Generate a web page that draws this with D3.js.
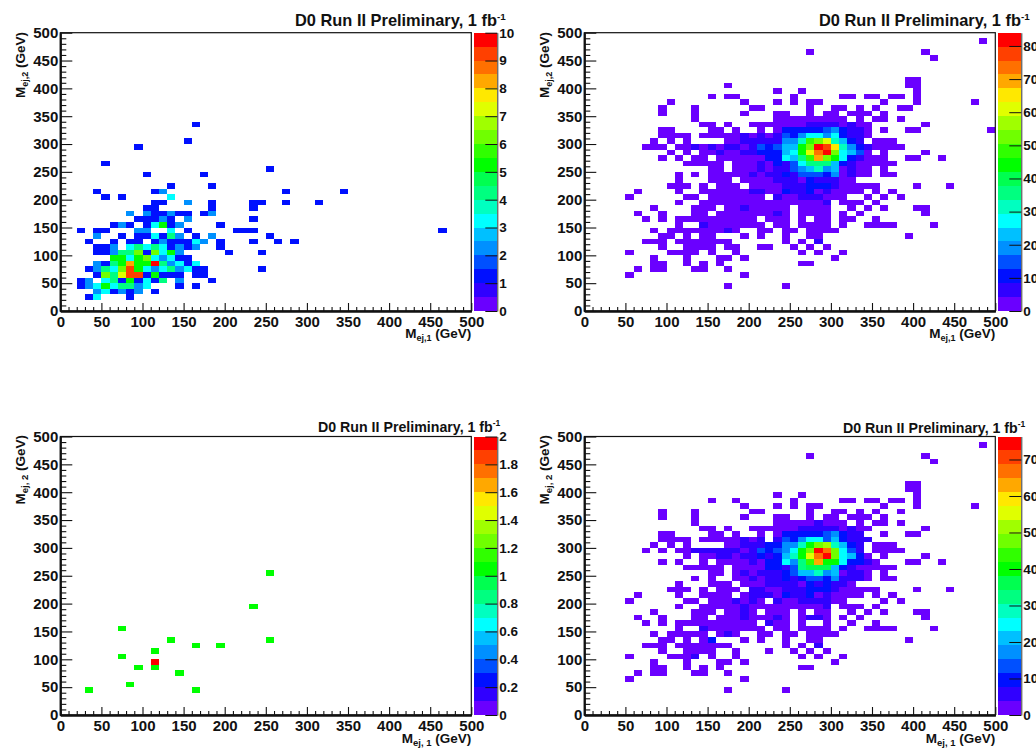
<!DOCTYPE html>
<html>
<head>
<meta charset="utf-8">
<script src="https://cdn.jsdelivr.net/npm/d3@7/dist/d3.min.js"></script>
<style>
html,body{margin:0;padding:0;background:#fff;overflow:hidden}
svg{display:block}
text{font-family:"Liberation Sans",Arial,sans-serif;font-weight:bold;fill:#111}
</style>
</head>
<body>
<svg id="c" width="1036" height="752"></svg>
<script>
// Data: each row is "yBin|xBin[-xBin][:count] ...", bins are 10 GeV wide, count defaults to 1.
const rowsA = [
"33|16","30|15","29|9","26|5","25|25","24|10 17","22|13 18","21|4 11 12:2 27 34","20|5 7 13:3",
"19|11-12 15:2 18 23-24 27 31","18|10-11 18 23","17|8:2 10:2 11-12 13:2 14-15 17 18:2",
"16|9-11 12:2 13 15:2 23","15|6 7:2 8 10 11:3 12:5 13 14:2 19","14|2 4-5 9-10:2 13:3 15 21-23 46",
"13|4:2 7 9-10 11:3 12 13:4 14:2 16 18:2 25","12|3 6 8-9 11 12:2 13-15 16:3 17:2 19 23 26 28",
"11|4-5 6:2 8:3 9:4 10:3 11:4 12:3 13 14:2 15 16:2 19","10|4-5 6:2 7-8:4 9:6 10 11:6 12:3 13:5 14:2 20 24",
"9|6-7:5 8:3 9:5 10:6 11:3 12:2 13:3 14-15","8|4:2 5 6:4 7:5 8:8 9-10:5 11:10 12:4 13:2 14:3 15 16:3",
"7|3 4:2 5:4 6:3 7:6 8:9 9:5 10:3 11:2 12:3 13:4 14:2 15:3 16-17 24",
"6|4 5:6 6:4 7:7 8-9:9 10 11:5 12-14 16-17","5|2 3:2 5:3 6:4 7 8:5 9 10:3 11 12:4 14:2 18",
"4|2 3:2 4:3 5:5 6:3 7-8:4 9:2 10:3 14 16","3|4:2 5:3 6 7:2 8 9:2 11","2|3 4:3 8"
];
const rowsB = [
"48|48","46|27 41","45|42","41|39-40","40|17 39-40","39|23 26 40","38|15 17-18 25 31-32 34-35 37-38 40",
"37|10 19 23 25 27-28 36 40 47","36|9 13 20-21 27 30-31 33 35 38-39","35|9 13 19 23-24 27 29-30 32-34 36",
"34|13 23-31 33 35-36 38","33|14-15 17 20-26 27-30:6 31 32:6 33-34 41",
"32|9-10 15-16 18 21 23 24-28:10 29:15 30:19 31:10 32-33:6 34 36 39-40 49",
"31|9-12 14-18 19:6 20 21:6 22 23:6 24:15 25:10 26:19 27-28:27 29:19 30:27 31:10 32-33:6 34",
"30|8 10 12 17-18 19-23:6 24-25:19 26:32 27:48 28:53 29:61 30:32 31:23 32:10 33:6 35-37",
"29|7-9 11-12 13:6 14 15:6 16 17-18:6 19 20:6 21:15 22:10 23:15 24-25:23 26:44 27:53 28:82 29:78 30:65 31:32 32:19 33:10 34:6 35-38",
"28|10 12 14-15 16:6 17-18 19-20:6 21:10 22-23:10 24:23 25:27 26:44 27:61 28:74 29:82 30:53 31:27 32:23 33:15 34 36 41",
"27|9 11 13-14 16-21 22-23:10 24:27 25:23 26:36 27:48 28:69 29:53 30:44 31:27 32:10 33:6 34-36 39-40 43",
"26|12-16 18-20 21:6 22 23:10 24:6 25:15 26:27 27-29:36 30:23 31:10 32:6 33-37",
"25|15-16 18-20 21:6 22 23-24:6 25:15 26:19 27:23 28:32 29:19 30:23 31 32:6 33-34 36",
"24|11 13 15-19 20:6 21 22-23:6 24:10 25:6 26-28:15 29:10 30:19 31 32:6 33-34 36-37",
"23|11 15-17 19-22 23:6 24-25:6 26 27:10 28-30:6 31-32",
"22|10-12 14 16-18 20-23 24-26:6 27-29:10 30:6 31-35 40 44",
"21|6 11 14-19 20-21:6 22-23 24:10 25-26:6 27:10 28 29:6 30-33 35 37",
"20|5 12-13 15-21 23:6 24-25 26-28:6 29-31 34 36 38",
"19|11 14-28 29:6 31-33 35","18|8 13-15 17-18 19:6 20-24 26-29 32 34 36 40-41",
"17|6 9 13-14 16-22 23:6 24 26-29 31 33 41","16|7 9 11-20 22-24 26 28-29 31-32 35",
"15|11 14:6 15-21 23-24 26-29 31 34-37 42","14|8 10-16 17:6 18 21-22 24-25 27-30",
"13|9-10 12 14-15 19 21 24 27-28 39","12|7-9 11-17 24 26 28:6","11|9 12-15 17-18 21-22 25 27 29",
"10|5 10-13 15 18 26 28 31","9|8 12 16-17 19 30","8|8-9 12 14 16 26-27","7|6 8-9 13-14 17","6|5 19","4|17 24"
];
const rowsC = [
"25|25","19|23","15|7","13|13 25","12|16 19","11|11","10|7","9|11:2","8|9 11","7|14","5|8","4|3 16"
];
const rowsD = [
"48|48","46|27 41","45|42","41|39-40","40|39-40","39|23 26 40","38|15 18 25 31-32 34-35 37-38 40",
"37|19 23 25 27-28 36 40 47","36|9 13 20-21 27 30-31 33 35 38","35|9 13 19 23-24 27 29-30 32-34 36",
"34|13 23-27 28:6 29-31 33 35-36 38","33|14-15 17 20-25 26-30:6 31 32:6 33-34 41",
"32|9-10 15-16 18 21 23 24-28:10 29:13 30:17 31:10 32-33:6 36 39-40",
"31|9-12 14-18 19:6 20 21:6 23:6 24:13 25:10 26:17 27-28:25 29:13 30:21 31:10 32-34:6",
"30|8 10 12 17-18 19-21:6 22-23:10 24-25:17 26:29 27:40 28:48 29:51 30:29 31:21 32:10 33:6 35-37",
"29|7 9 11-12 13-18:6 19 20:6 21:13 22:10 23:13 24:17 25:25 26:40 27:48 28:74 29:67 30:48 31:25 32:13 33:6 35-38",
"28|12 14-15 16-17:6 18 19-20:6 21:10 22:6 23:10 24:21 25:29 26:40 27:55 28:67 29:74 30:48 31:25 32:21 33:10 34 36 41",
"27|9 11 14 16-19 20:6 21 22-23:10 24:25 25:17 26:32 27:44 28:63 29-30:40 31:25 32-33:10 34:6 35 39-40 43",
"26|12-16 18-20 21 22-23:10 24:6 25:13 26:32 27-29:36 30:21 31:10 32:6 33-37",
"25|15-16 18 19:6 20 21:6 22-23:6 24:10 25:13 26-27:21 28:29 29:17 30:21 31 32-33:6 34 36",
"24|13 15 18-19 20:6 21 22-23:6 24:10 25:6 26:10 27-28:13 29:10 30:17 31:6 32-33:6 34 36-37",
"23|11 15-17 19-21 22-23:6 24-25:6 26 27:10 28:6 29:10 30-31:6 32",
"22|10-12 14 16-18 20-21:6 22-23 24-26:6 27-29:10 30:6 31-35 40 44",
"21|6 11 14-17 19 20-22:6 23 24:10 25-26:6 27:10 28 29:6 30-33 35 37",
"20|5 12-13 15-17 18:6 19 20:6 21 23:6 24-25 26-29:6 30-31 36 38",
"19|11 14-18 19:6 20-28 29:6 31-33 35","18|8 13-15 17-18 19:6 20 22-24 26 28-29 32 34 36 40-41",
"17|6 9 13-14 16-18 19:6 20-22 23:6 24 26 27-28:6 29 31 33 41","16|7 9 11-20 22:6 23-24 26 29 32 35",
"15|11 14:6 15-21 23-24 26-29 31 34-37 42","14|8 10-14 16 17:6 18 21-22 24-25 27-30",
"13|9-10 12 14 15:10 19 21 24 27-28 39","12|7-9 11-17 24 26 28:6","11|9 12-15 18 22 25 27 29",
"10|5 10-12 13:6 15 18 26 28 31","9|8 12 16-17 19 30","8|8-9 12 14 16 26-27","7|6 8-9 13-14 17","6|5 19","4|17 24"
];
const zMaxes = [10, 84, 2, 76.3];
const zTicks = [
  [0,1,2,3,4,5,6,7,8,9,10],
  [0,10,20,30,40,50,60,70,80],
  [0,0.2,0.4,0.6,0.8,1,1.2,1.4,1.6,1.8,2],
  [0,10,20,30,40,50,60,70]
];
const axisMajor = [0,50,100,150,200,250,300,350,400,450,500];
const axisMinor = d3.range(0,501,10).filter(v => v % 50 !== 0);
const binWidth = 10;
const palette = ["#6a00ff","#3000ff","#0010ff","#0050ff","#0090ff","#00c0ff","#00ffff","#00ffc0","#00ff80","#00ff50",
                 "#00ff00","#30ff00","#70ff00","#a0ff00","#e0ff00","#ffe800","#ffa800","#ff7000","#ff4000","#ff0000"];
const titleText = "D0 Run II Preliminary, 1 fb";

const layouts = [
  {rows:rowsA,l:60.3, top:32.7,bot:311,sep:",",titleSize:16.4,titleX:295,titleY:26,yTitleTop:32},
  {rows:rowsB,l:584.3,top:32.7,bot:311,sep:",",titleSize:16.4,titleX:819,titleY:26,yTitleTop:32},
  {rows:rowsC,l:60.3, top:436.5,bot:715,sep:", ",titleSize:14.2,titleX:318,titleY:432,yTitleTop:435},
  {rows:rowsD,l:584.3,top:436.5,bot:715,sep:", ",titleSize:14.2,titleX:843,titleY:433,yTitleTop:435}
];

function parseRows(rows){
  const cells=[];
  rows.forEach(r=>{
    const [yb,list]=r.split("|");
    list.split(" ").forEach(tok=>{
      const [range,count]=tok.split(":");
      const [a,b]=range.split("-").map(Number);
      d3.range(a,(b===undefined?a:b)+1).forEach(k=>cells.push({xLow:k*binWidth,yLow:+yb*binWidth,v:count?+count:1}));
    });
  });
  return cells;
}

const svg=d3.select("#c");
layouts.forEach((p,i)=>{
  const W=411, zMax=zMaxes[i];
  const x=d3.scaleLinear().domain([0,500]).range([p.l,p.l+W]);
  const y=d3.scaleLinear().domain([0,500]).range([p.bot,p.top]);
  const z=d3.scaleQuantize().domain([0,zMax]).range(palette);
  const g=svg.append("g");

  g.append("g").attr("shape-rendering","crispEdges").selectAll("rect").data(parseRows(p.rows)).join("rect")
    .attr("x",d=>x(d.xLow)).attr("width",d=>x(d.xLow+binWidth)-x(d.xLow))
    .attr("y",d=>y(d.yLow+binWidth)).attr("height",d=>y(d.yLow)-y(d.yLow+binWidth))
    .attr("fill",d=>z(d.v));

  // frame
  g.append("rect").attr("x",p.l).attr("y",p.top).attr("width",W).attr("height",p.bot-p.top)
    .attr("fill","none").attr("stroke","#111").attr("stroke-width",1.2);

  const fmt=d=>String(d);
  const xMajor=d3.axisBottom(x).tickValues(axisMajor).tickFormat(fmt).tickSizeInner(-8).tickSizeOuter(0).tickPadding(5);
  const xMinor=d3.axisBottom(x).tickValues(axisMinor).tickFormat("").tickSizeInner(-4).tickSizeOuter(0);
  const yMajor=d3.axisLeft(y).tickValues(axisMajor).tickFormat(fmt).tickSizeInner(-12).tickSizeOuter(0).tickPadding(2);
  const yMinor=d3.axisLeft(y).tickValues(axisMinor).tickFormat("").tickSizeInner(-6).tickSizeOuter(0);
  [[xMajor,p.bot,0],[xMinor,p.bot,0],[yMajor,0,p.l],[yMinor,0,p.l]].forEach(([ax,ty,tx])=>{
    const a=g.append("g").attr("transform",`translate(${tx},${ty})`).call(ax);
    a.selectAll("path").attr("stroke","#111").attr("stroke-width",1.8);
    a.selectAll("line").attr("stroke","#111").attr("stroke-width",1.1);
    a.selectAll("text").attr("font-size",15).attr("fill","#111").attr("font-family",'"Liberation Sans"').attr("font-weight","bold");
  });

  // colour bar
  const bx=p.l+413.7, bw=23.3;
  const zs=d3.scaleLinear().domain([0,zMax]).range([p.bot,p.top]);
  g.append("g").attr("shape-rendering","crispEdges").selectAll("rect").data(palette).join("rect")
    .attr("x",bx).attr("width",bw)
    .attr("y",(c,n)=>zs((n+1)*zMax/palette.length)).attr("height",(c,n)=>zs(n*zMax/palette.length)-zs((n+1)*zMax/palette.length))
    .attr("fill",c=>c);
  const zAxis=d3.axisRight(zs).tickValues(zTicks[i]).tickFormat(d=>String(+d.toFixed(1))).tickSizeInner(-12).tickSizeOuter(0).tickPadding(2);
  const za=g.append("g").attr("transform",`translate(${bx+bw},0)`).call(zAxis);
  za.selectAll("path").attr("stroke","#333").attr("stroke-width",1);
  za.selectAll("line").attr("stroke","#111").attr("stroke-width",1);
  za.selectAll("text").attr("font-size",13.5).attr("fill","#111").attr("font-family",'"Liberation Sans"').attr("font-weight","bold");

  // title
  const t=g.append("text").attr("x",p.titleX).attr("y",p.titleY).attr("font-size",p.titleSize);
  t.append("tspan").text(titleText);
  t.append("tspan").text("-1").attr("dy",-6).attr("font-size",p.titleSize*0.6);

  // axis titles
  const axisFont=13.5, subFont=i<2?9:9.5;
  const xt=g.append("text").attr("x",p.l+W).attr("y",p.bot+(i<2?27:28)).attr("text-anchor","end").attr("font-size",axisFont);
  xt.append("tspan").text("M");
  xt.append("tspan").text("ej"+p.sep+"1").attr("dy",3).attr("font-size",subFont);
  xt.append("tspan").text(" (GeV)").attr("dy",-3);
  const yt=g.append("text").attr("transform",`translate(${i%2===1?549:25},0) rotate(-90)`).attr("x",-p.yTitleTop).attr("y",0).attr("text-anchor","end").attr("font-size",axisFont);
  yt.append("tspan").text("M");
  yt.append("tspan").text("ej"+p.sep+"2").attr("dy",3).attr("font-size",subFont);
  yt.append("tspan").text(" (GeV)").attr("dy",-3);
});
</script>
</body>
</html>
